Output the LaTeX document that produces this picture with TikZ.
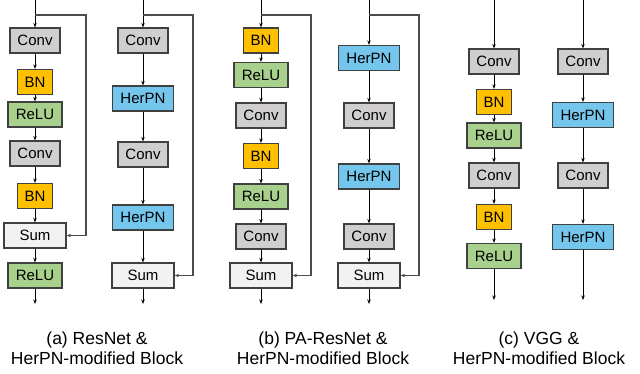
\documentclass[tikz,border=0pt]{standalone}
\usepackage{fontspec}
\setmainfont{Liberation Sans}
\usetikzlibrary{arrows.meta}

\definecolor{convgray}{HTML}{D0CECE}
\definecolor{bnorange}{HTML}{FFC000}
\definecolor{relugreen}{HTML}{A9D18E}
\definecolor{herpnblue}{HTML}{75C6EC}
\definecolor{sumgray}{HTML}{F2F2F2}
\definecolor{edgegray}{HTML}{404040}

\tikzset{
    layer/.style={draw=edgegray, line width=1.2pt, minimum height=25pt, inner sep=0pt,
        font=\fontsize{15}{18}\selectfont},
    conv/.style={layer, fill=convgray, minimum width=50pt},
    bn/.style={layer, fill=bnorange, minimum width=35pt},
    relu/.style={layer, fill=relugreen, minimum width=54pt},
    herpn/.style={layer, fill=herpnblue, minimum width=61pt},
    sumbox/.style={layer, fill=sumgray, minimum width=62pt},
    flow/.style={line width=1pt, -{Stealth[length=4.5pt,width=3.5pt]}},
    skip/.style={line width=1.1pt, draw=black!70, -{Stealth[length=4.5pt,width=3.5pt]}},
    caption/.style={align=center, font=\fontsize{17.5}{20}\selectfont}
}

\begin{document}
\begin{tikzpicture}[x=1pt, y=-1pt]
        \useasboundingbox (0,0) rectangle (640,373);

        % (a) ResNet block
        \coordinate (ina) at (35,0);
        \coordinate (ta) at (35,15);
        \coordinate (sa) at (86,15);
        \node[conv] (conva1) at (35,40.5) {Conv};
        \node[bn] (bna1) at (35,82) {BN};
        \node[relu] (relua1) at (35,114.5) {ReLU};
        \node[conv] (conva2) at (35,153.5) {Conv};
        \node[bn] (bna2) at (35,196) {BN};
        \node[sumbox] (suma) at (35,235.5) {Sum};
        \node[relu] (relua2) at (35,275.5) {ReLU};
        \coordinate (outa) at (35,304);
        \draw[flow] (ina) -- (conva1);
        \draw[flow] (conva1) -- (bna1);
        \draw[flow] (bna1) -- (relua1);
        \draw[flow] (relua1) -- (conva2);
        \draw[flow] (conva2) -- (bna2);
        \draw[flow] (bna2) -- (suma);
        \draw[flow] (suma) -- (relua2);
        \draw[flow] (relua2) -- (outa);
        \draw[skip] (ta) -- (sa) |- (suma.east);

        % (a) HerPN-modified block
        \coordinate (inh) at (143,0);
        \coordinate (th) at (143,15);
        \coordinate (sh) at (193,15);
        \node[conv] (convh1) at (143,40.5) {Conv};
        \node[herpn] (herpnh1) at (143,98.5) {HerPN};
        \node[conv] (convh2) at (143,154.5) {Conv};
        \node[herpn] (herpnh2) at (143,217.5) {HerPN};
        \node[sumbox] (sumh) at (143,275.5) {Sum};
        \coordinate (outh) at (143,304);
        \draw[flow] (inh) -- (convh1);
        \draw[flow] (convh1) -- (herpnh1);
        \draw[flow] (herpnh1) -- (convh2);
        \draw[flow] (convh2) -- (herpnh2);
        \draw[flow] (herpnh2) -- (sumh);
        \draw[flow] (sumh) -- (outh);
        \draw[skip] (th) -- (sh) |- (sumh.east);

        % (b) PA-ResNet block
        \coordinate (inb) at (261,0);
        \coordinate (tb) at (261,15);
        \coordinate (sb) at (311,15);
        \node[bn] (bnb1) at (261,40.5) {BN};
        \node[relu] (relub1) at (261,75) {ReLU};
        \node[conv] (convb1) at (261,115.5) {Conv};
        \node[bn] (bnb2) at (261,156) {BN};
        \node[relu] (relub2) at (261,196.5) {ReLU};
        \node[conv] (convb2) at (261,236.5) {Conv};
        \node[sumbox] (sumb) at (261,275.5) {Sum};
        \coordinate (outb) at (261,304);
        \draw[flow] (inb) -- (bnb1);
        \draw[flow] (bnb1) -- (relub1);
        \draw[flow] (relub1) -- (convb1);
        \draw[flow] (convb1) -- (bnb2);
        \draw[flow] (bnb2) -- (relub2);
        \draw[flow] (relub2) -- (convb2);
        \draw[flow] (convb2) -- (sumb);
        \draw[flow] (sumb) -- (outb);
        \draw[skip] (tb) -- (sb) |- (sumb.east);

        % (b) HerPN-modified block
        \coordinate (inp) at (369,0);
        \coordinate (tp) at (369,15);
        \coordinate (sp) at (419,15);
        \node[herpn] (herpnp1) at (369,58) {HerPN};
        \node[conv] (convp1) at (369,115.5) {Conv};
        \node[herpn] (herpnp2) at (369,176.5) {HerPN};
        \node[conv] (convp2) at (369,236.5) {Conv};
        \node[sumbox] (sump) at (369,275.5) {Sum};
        \coordinate (outp) at (369,304);
        \draw[flow] (inp) -- (herpnp1);
        \draw[flow] (herpnp1) -- (convp1);
        \draw[flow] (convp1) -- (herpnp2);
        \draw[flow] (herpnp2) -- (convp2);
        \draw[flow] (convp2) -- (sump);
        \draw[flow] (sump) -- (outp);
        \draw[skip] (tp) -- (sp) |- (sump.east);

        % (c) VGG block
        \coordinate (inc) at (494,0);
        \node[conv] (convc1) at (494,61.5) {Conv};
        \node[bn] (bnc1) at (494,102) {BN};
        \node[relu] (reluc1) at (494,135.5) {ReLU};
        \node[conv] (convc2) at (494,175.5) {Conv};
        \node[bn] (bnc2) at (494,217) {BN};
        \node[relu] (reluc2) at (494,256) {ReLU};
        \coordinate (outc) at (494,300);
        \draw[flow] (inc) -- (convc1);
        \draw[flow] (convc1) -- (bnc1);
        \draw[flow] (bnc1) -- (reluc1);
        \draw[flow] (reluc1) -- (convc2);
        \draw[flow] (convc2) -- (bnc2);
        \draw[flow] (bnc2) -- (reluc2);
        \draw[flow] (reluc2) -- (outc);

        % (c) HerPN-modified block
        \coordinate (inv) at (583,0);
        \node[conv] (convv1) at (583,61.5) {Conv};
        \node[herpn] (herpnv1) at (583,115) {HerPN};
        \node[conv] (convv2) at (583,175.5) {Conv};
        \node[herpn] (herpnv2) at (583,237) {HerPN};
        \coordinate (outv) at (583,300);
        \draw[flow] (inv) -- (convv1);
        \draw[flow] (convv1) -- (herpnv1);
        \draw[flow] (herpnv1) -- (convv2);
        \draw[flow] (convv2) -- (herpnv2);
        \draw[flow] (herpnv2) -- (outv);

        % captions
        \node[caption] (capa) at (97,348) {(a) ResNet \&\\HerPN-modified Block};
        \node[caption] (capb) at (323,348) {(b) PA-ResNet \&\\HerPN-modified Block};
        \node[caption] (capc) at (539,348) {(c) VGG \&\\HerPN-modified Block};
    \end{tikzpicture}
\end{document}
